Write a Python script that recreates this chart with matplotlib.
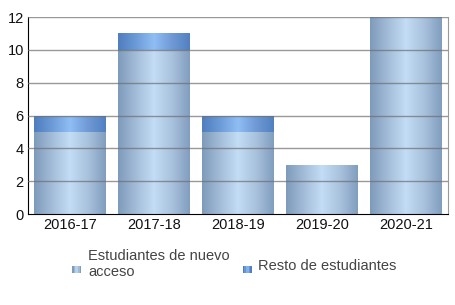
import numpy as np
import matplotlib.pyplot as plt
from matplotlib.patches import Rectangle
from matplotlib.colors import LinearSegmentedColormap
from matplotlib.legend_handler import HandlerBase

plt.rcParams['font.family'] = ['Liberation Sans', 'DejaVu Sans']

cursos = ['2016-17', '2017-18', '2018-19', '2019-20', '2020-21']
nuevo_acceso = [5, 10, 5, 3, 12]
resto = [1, 1, 1, 0, 0]
series = ['Estudiantes de nuevo\nacceso', 'Resto de estudiantes']

cmap_nuevo = LinearSegmentedColormap.from_list(
    'nuevo', ['#7f9bbb', '#a3bcd8', '#c4ddf6', '#a9c2dd', '#819ebf'])
cmap_resto = LinearSegmentedColormap.from_list(
    'resto', ['#4f7dbd', '#6c9bd8', '#8fbef4', '#6f9ad6', '#5280c0'])
grad = np.linspace(0, 1, 256).reshape(1, -1)

fig = plt.figure(figsize=(4.56, 3.05), dpi=100)
ax = fig.add_axes([28 / 456, 1 - 214 / 305, 420 / 456, 197 / 305])

w = 72 / 84


def grad_bar(x, bottom, height, cmap):
    if height <= 0:
        return
    r = Rectangle((x - w / 2, bottom), w, height, facecolor='none',
                  edgecolor='none')
    ax.add_patch(r)
    im = ax.imshow(grad, cmap=cmap, aspect='auto', interpolation='bilinear',
                   extent=(x - w / 2, x + w / 2, bottom, bottom + height),
                   zorder=1)
    im.set_clip_path(r)


for i in range(len(cursos)):
    grad_bar(i, 0, nuevo_acceso[i], cmap_nuevo)
    grad_bar(i, nuevo_acceso[i], resto[i], cmap_resto)

ax.set_xlim(-0.5, len(cursos) - 0.5)
ax.set_ylim(0, 12)
ax.set_yticks(range(0, 13, 2))
ax.set_xticks(range(len(cursos)))
ax.set_xticklabels(cursos)
ax.tick_params(length=0, labelsize=10.5, pad=3, labelcolor='#111111')
for y in range(2, 13, 2):
    ax.axhline(y, color='#6e6e6e', lw=1, alpha=0.7, zorder=3)
ax.spines['top'].set_visible(False)
ax.spines['right'].set_color('#999999')
ax.spines['left'].set_color('black')
ax.spines['bottom'].set_color('black')


class GradHandler(HandlerBase):
    def __init__(self, cmap):
        super().__init__()
        self.cmap = cmap

    def create_artists(self, legend, orig_handle, xdescent, ydescent,
                       width, height, fontsize, trans):
        arts = []
        n = 6
        hw = width
        hh = 5.0
        y0 = -ydescent - 2.6
        for k in range(n):
            arts.append(Rectangle((k * hw / n - xdescent, y0),
                                  hw / n, hh, facecolor=self.cmap(k / (n - 1)),
                                  edgecolor='none', transform=trans))
        return arts


h1 = Rectangle((0, 0), 1, 1)
h2 = Rectangle((0, 0), 1, 1)
leg = fig.legend([h1, h2], series, loc='center',
                 bbox_to_anchor=(234.5 / 456, 1 - 264 / 305),
                 ncol=2, frameon=False, fontsize=10.5, handlelength=0.62,
                 handletextpad=0.45, columnspacing=0.9,
                 handler_map={h1: GradHandler(cmap_nuevo),
                              h2: GradHandler(cmap_resto)})
for t in leg.get_texts():
    t.set_color('#444444')

fig.savefig('out.png', dpi=100)
